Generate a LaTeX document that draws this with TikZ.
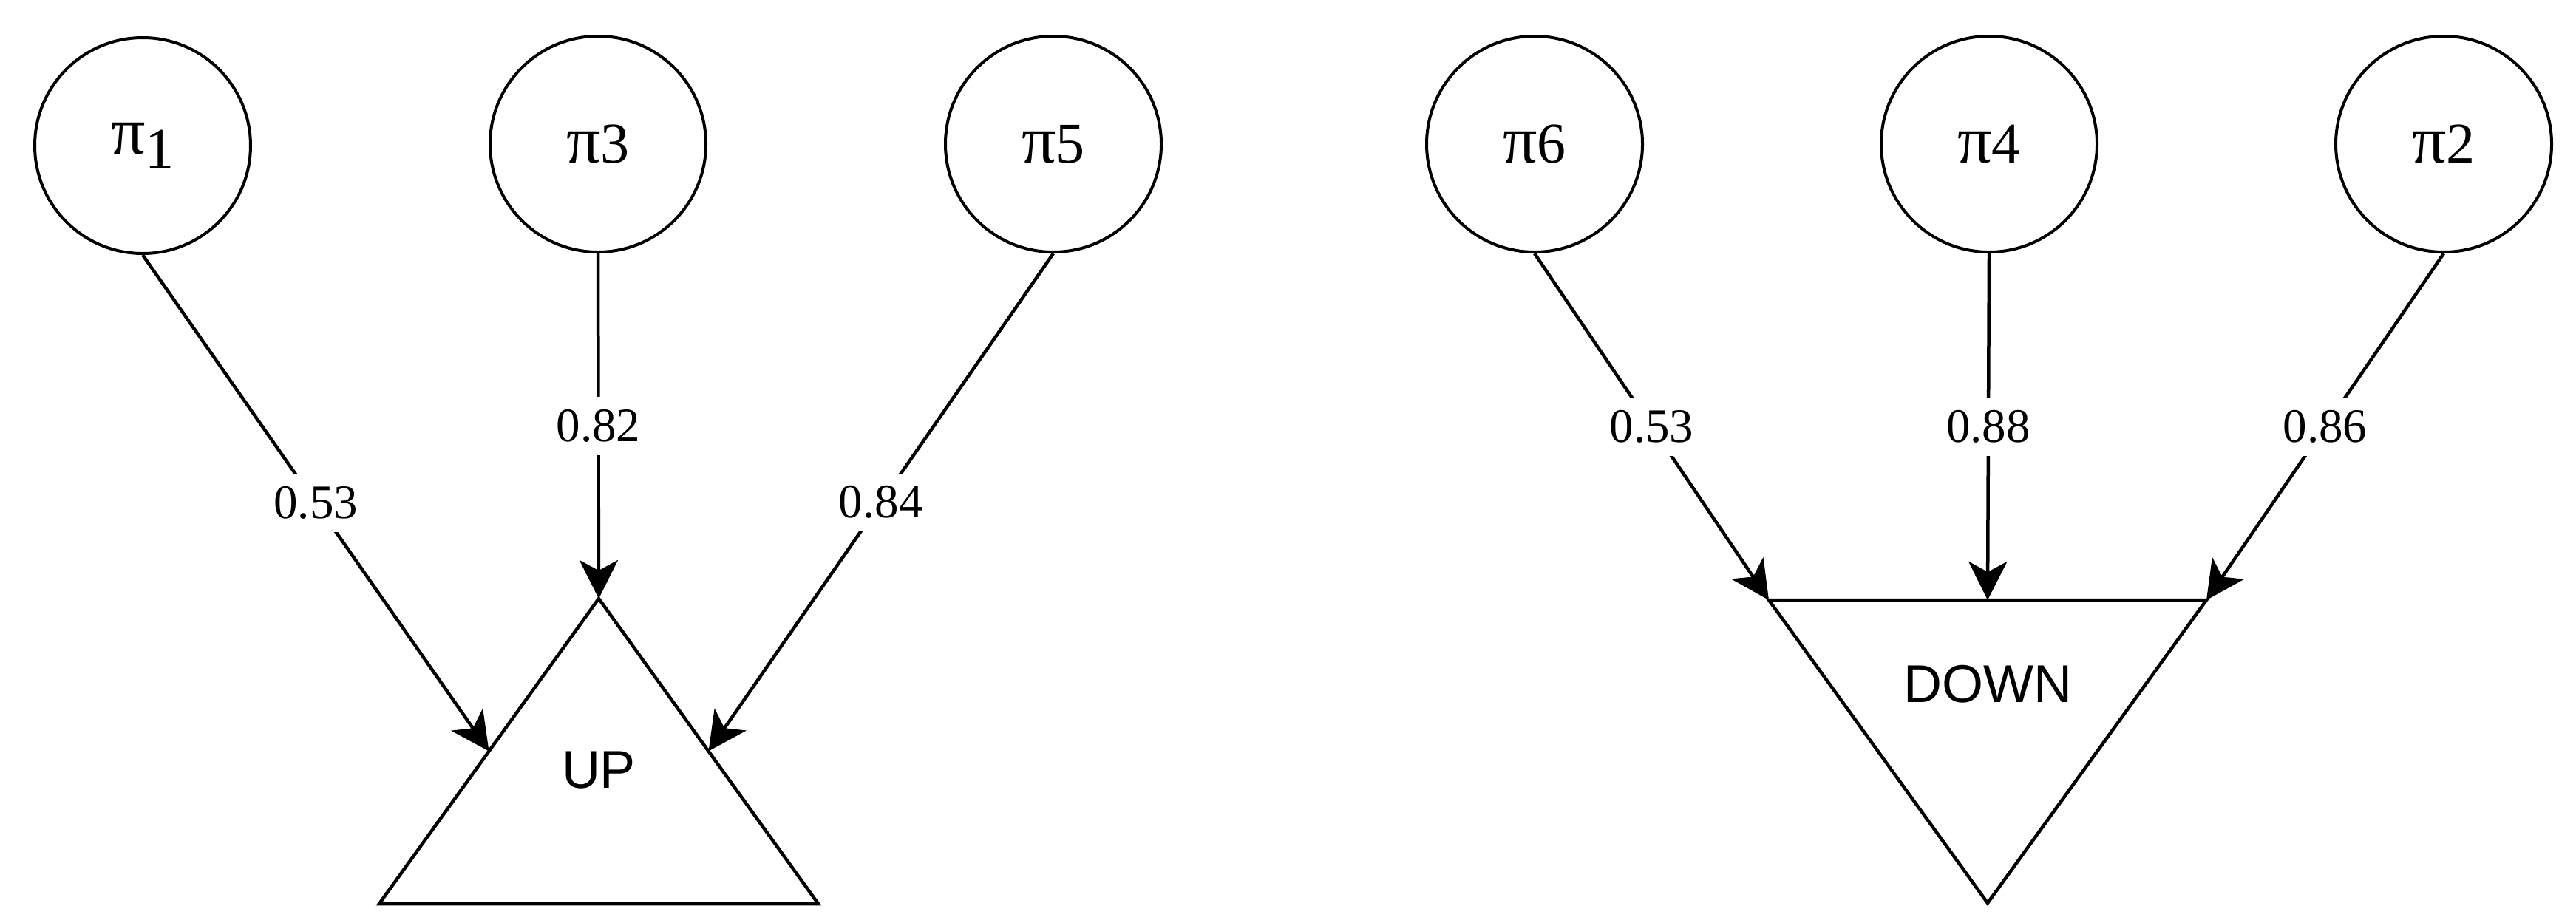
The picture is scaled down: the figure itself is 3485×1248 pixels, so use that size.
\documentclass[tikz,border=0pt]{standalone}
\usepackage{fontspec}
\setmainfont{Liberation Serif}
\newfontfamily\arialfont{Liberation Sans}
\usetikzlibrary{arrows.meta,calc}
\newcommand{\bigpi}{{\fontsize{92}{92}\selectfont π}}
\begin{document}
\begin{tikzpicture}[x=1pt,y=-1pt,
  pinode/.style={circle, draw, line width=4pt, minimum size=292pt, inner sep=0pt, font=\fontsize{78}{90}\selectfont},
  wlabel/.style={fill=white, inner sep=17pt, font=\fontsize{65}{75}\selectfont},
  shapelabel/.style={font=\arialfont\fontsize{72}{84}\selectfont},
  conn/.style={line width=4.5pt, -{Stealth[length=52pt,width=52pt,inset=14pt]}},
  tri/.style={line width=4.5pt, line join=miter}]
\useasboundingbox (0,0) rectangle (3485,1248);
\fill[white] (0,0) rectangle (3485,1248);

% circles
\node[pinode] (p1) at (193,197) {\bigpi\raisebox{-19pt}{1}};
\node[pinode] (p3) at (809,195) {\bigpi 3};
\node[pinode] (p5) at (1425,195) {\bigpi 5};
\node[pinode] (p6) at (2076,195) {\bigpi 6};
\node[pinode] (p4) at (2691,195) {\bigpi 4};
\node[pinode] (p2) at (3306,195) {\bigpi 2};

% UP triangle
\coordinate (upA) at (810,810);
\coordinate (upBL) at (513,1223);
\coordinate (upBR) at (1107,1223);
\coordinate (upL) at ($(upA)!0.5!(upBL)$);
\coordinate (upR) at ($(upA)!0.5!(upBR)$);
\draw[tri] (upA) -- (upBL) -- (upBR) -- cycle;
\node[shapelabel] (up) at (810,1042) {UP};

% DOWN triangle
\coordinate (dnTL) at (2393,812);
\coordinate (dnTR) at (2985,812);
\coordinate (dnT) at (2689,812);
\coordinate (dnA) at (2689,1222);
\draw[tri] (dnTL) -- (dnTR) -- (dnA) -- cycle;
\node[shapelabel] (down) at (2689,926) {DOWN};

% connectors
\draw[conn] (p1.south) -- node[wlabel] {0.53} (upL);
\draw[conn] (p3.south) -- node[wlabel] {0.82} (upA);
\draw[conn] (p5.south) -- node[wlabel] {0.84} (upR);
\draw[conn] (p6.south) -- node[wlabel] {0.53} (dnTL);
\draw[conn] (p4.south) -- node[wlabel] {0.88} (dnT);
\draw[conn] (p2.south) -- node[wlabel] {0.86} (dnTR);
\end{tikzpicture}
\end{document}
